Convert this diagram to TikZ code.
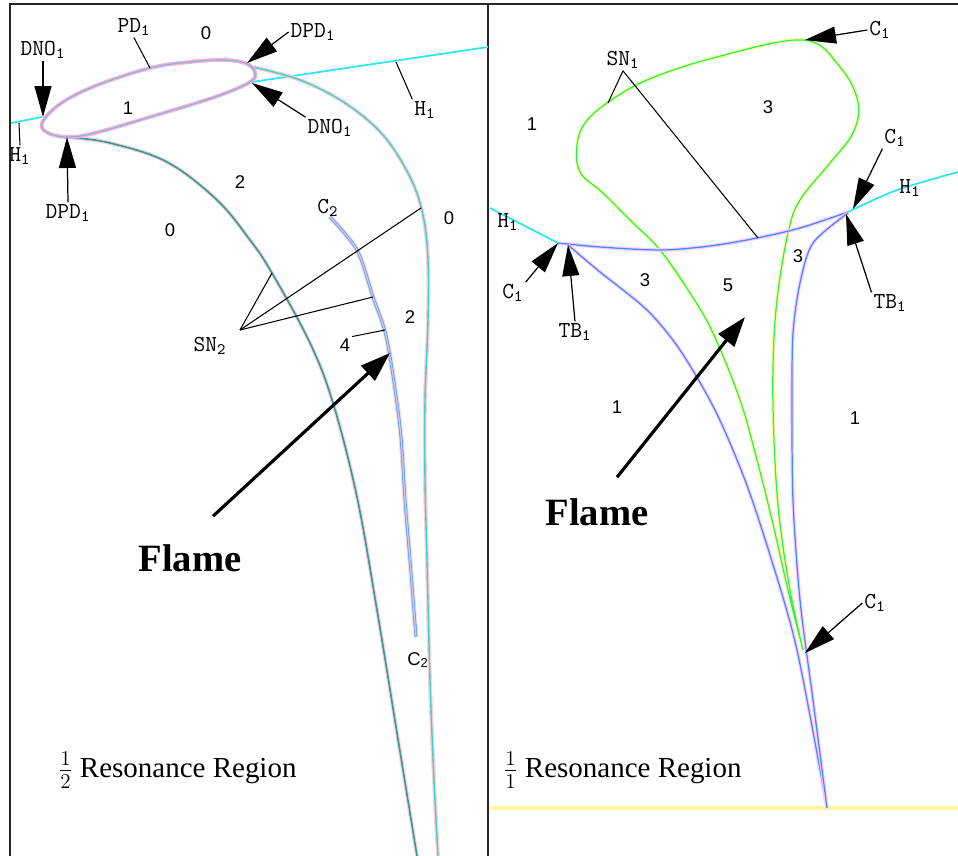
\documentclass[tikz,border=0pt]{standalone}
\usepackage{fontspec}
\setmainfont{Liberation Serif}
\newfontfamily\digitfont{Liberation Sans}
\usetikzlibrary{arrows.meta}
\definecolor{h1cyan}{HTML}{2EE6F0}
\definecolor{tealcurve}{HTML}{2A9E9C}
\definecolor{cyancurve}{HTML}{3DD3D6}
\definecolor{rosehalo}{HTML}{FFCDD0}
\definecolor{ovalpink}{HTML}{EEB4D8}
\definecolor{ovalblue}{HTML}{86B2DA}
\definecolor{cuspblue}{HTML}{6F9CEA}
\definecolor{cusppale}{HTML}{B9D2F5}
\definecolor{branchblue}{HTML}{3C8DFF}
\definecolor{magentahalo}{HTML}{FFC8FF}
\definecolor{loopgreen}{HTML}{25EE6A}
\definecolor{yellowhalo}{HTML}{FFFFA0}
\definecolor{baseyellow}{HTML}{FFF69E}

\tikzset{
  frameline/.style={draw=black!85, line width=1.1pt},
  lbl/.style={font=\fontsize{13}{15}\selectfont\ttfamily, inner sep=1pt},
  num/.style={font=\fontsize{10.5}{12}\selectfont\digitfont, inner sep=1pt},
  flametext/.style={font=\fontsize{22}{26}\selectfont\bfseries},
  regiontext/.style={font=\fontsize{16.5}{20}\selectfont, anchor=west},
  pointer/.style={line width=0.7pt, -{Triangle[length=0.62cm,width=0.34cm]}},
  tickline/.style={line width=0.6pt},
  flamearrow/.style={line width=1.8pt, -{Triangle[length=0.6cm,width=0.4cm]}},
  horizon/.style={draw=h1cyan, line width=1pt},
  outeredge/.style={draw=cyancurve, line width=0.8pt, preaction={draw=rosehalo, line width=2.2pt}},
  inneredge/.style={draw=tealcurve, line width=0.9pt, preaction={draw=rosehalo, line width=2.2pt}},
  oval/.style={draw=ovalblue, line width=0.6pt, preaction={draw=ovalpink, line width=2.2pt}},
  cuspline/.style={draw=cuspblue, line width=0.5pt, double=cusppale, double distance=0.7pt, preaction={draw=rosehalo!70, line width=3pt}},
  branch/.style={draw=branchblue, line width=0.7pt, preaction={draw=magentahalo, line width=2pt}},
  loop/.style={draw=loopgreen, line width=0.7pt, preaction={draw=yellowhalo, line width=2.2pt}}
}

\begin{document}
\begin{tikzpicture}[x=0.02cm,y=-0.02cm]
  \useasboundingbox (0,0) rectangle (958,856);
  \draw[frameline] (10,856) -- (10,4) -- (958,4);
  \draw[frameline] (488,4) -- (488,856);

  % 1/2 resonance
  \draw[horizon] (11,123) -- (42,117);
  \draw[horizon] (252,82) -- (488,47);
  \draw[outeredge] plot[smooth, tension=0.6] coordinates {(253,67) (300,80) (345,103) (383,135) (410,177) (423,215) (428,260) (428,320) (425,400) (425,480) (427,560) (430,680) (434,780) (438,856)};
  \draw[inneredge] plot[smooth, tension=0.6] coordinates {(67,137) (110,143) (167,162) (217,200) (250,240) (272,273) (310,343) (333,403) (357,497) (377,610) (397,733) (417,856)};
  \draw[cuspline] plot[smooth] coordinates {(330,217) (357,250) (373,297) (387,340) (400,427) (405,500) (410,560) (416,637)};
  \draw[oval] plot[smooth cycle, tension=0.6] coordinates {(42,123) (60,104) (95,86) (150,68) (190,62) (222,60) (245,63) (255,72) (250,82) (215,97) (150,117) (95,133) (68,137) (48,133)};

  \coordinate (pdOn) at (150,68);
  \coordinate (dnoLtip) at (43,117);
  \coordinate (dpdTtip) at (247,63);
  \coordinate (dnoRtip) at (252,83);
  \coordinate (dpdBtip) at (67,137);
  \coordinate (h1Lon) at (19,123);
  \coordinate (h1Ron) at (396,62);
  \coordinate (snHub) at (240,330);
  \coordinate (snInner) at (272,273);
  \coordinate (snOuter) at (421,208);
  \coordinate (snCusp) at (373,297);
  \coordinate (fourOn) at (385,330);
  \coordinate (flameLtip) at (390,353);

  \node[lbl] (pd) at (134,27) {PD\textsubscript{1}};
  \node[num] (zeroA) at (206,33) {0};
  \node[lbl] (dnoL) at (43,50) {DNO\textsubscript{1}};
  \node[lbl] (dpdT) at (313,32) {DPD\textsubscript{1}};
  \node[num] (oneA) at (128,108) {1};
  \node[lbl] (dnoR) at (330,128) {DNO\textsubscript{1}};
  \node[lbl] (h1R) at (425,110) {H\textsubscript{1}};
  \node[lbl] (h1L) at (20,156) {H\textsubscript{1}};
  \node[lbl] (dpdB) at (68,213) {DPD\textsubscript{1}};
  \node[num] (twoA) at (240,182) {2};
  \node[num] (zeroB) at (170,230) {0};
  \node[lbl] (c2top) at (328,208) {C\textsubscript{2}};
  \node[num] (zeroC) at (449,218) {0};
  \node[lbl] (sn2) at (210,346) {SN\textsubscript{2}};
  \node[num] (twoB) at (410,317) {2};
  \node[num] (four) at (345,345) {4};
  \node[num] (c2bot) at (418,660) {C\textsubscript{2}};
  \node[flametext] (flameL) at (190,558) {Flame};
  \node[regiontext] (resHalf) at (52,770) {$\frac{1}{2}$ Resonance Region};

  \draw[tickline] (pd.south) -- (pdOn);
  \draw[tickline] (h1L.north) -- (h1Lon);
  \draw[tickline] (h1R.north west) -- (h1Ron);
  \draw[pointer] (dnoL.south) -- (dnoLtip);
  \draw[pointer] (dpdT.west) -- (dpdTtip);
  \draw[pointer] (dnoR.north west) -- (dnoRtip);
  \draw[pointer] (dpdB.north) -- (dpdBtip);
  \draw[tickline] (snHub) -- (snInner);
  \draw[tickline] (snHub) -- (snOuter);
  \draw[tickline] (snHub) -- (snCusp);
  \draw[tickline] (four.north east) -- (fourOn);
  \draw[flamearrow] ([shift={(23,-22)}]flameL.north) -- (flameLtip);

  % 1/1 resonance
  \draw[draw=baseyellow, line width=1.8pt] (490,808) -- (958,808);
  \draw[horizon] plot[smooth] coordinates {(490,208) (525,226) (558,243)};
  \draw[horizon] plot[smooth] coordinates {(848,212) (897,190) (958,172)};
  \draw[loop] plot[smooth, tension=0.6] coordinates {(803,650) (788,590) (772,520) (757,460) (740,400) (713,333) (690,293) (660,250) (630,220) (603,193) (580,172) (577,145) (585,123) (607,103) (647,80) (713,58) (803,40) (840,67) (858,102) (853,133) (830,163) (800,200) (788,233) (777,300) (773,367) (774,440) (779,515) (790,590) (803,650)};
  \draw[branch] plot[smooth] coordinates {(558,243) (600,247) (660,250) (710,246) (757,238) (800,228) (848,212)};
  \draw[branch] plot[smooth] coordinates {(568,245) (600,272) (647,310) (680,350) (715,410) (745,480) (770,555) (797,650) (827,808)};
  \draw[branch] plot[smooth] coordinates {(848,213) (813,243) (800,283) (793,333) (792,400) (793,500) (800,600) (813,700) (827,808)};

  \coordinate (c1Atip) at (805,40);
  \coordinate (snLoop) at (608,103);
  \coordinate (snArc) at (758,238);
  \coordinate (c1Btip) at (853,209);
  \coordinate (c1Ctip) at (558,243);
  \coordinate (tbLtip) at (568,245);
  \coordinate (tbRtip) at (846,214);
  \coordinate (c1Dtip) at (805,653);
  \coordinate (flameRtip) at (745,317);

  \node[lbl] (c1A) at (880,30) {C\textsubscript{1}};
  \node[lbl] (sn1) at (623,60) {SN\textsubscript{1}};
  \node[num] (oneB) at (532,124) {1};
  \node[num] (threeA) at (768,107) {3};
  \node[lbl] (c1B) at (895,138) {C\textsubscript{1}};
  \node[lbl] (h1RR) at (910,188) {H\textsubscript{1}};
  \node[lbl] (h1RL) at (508,222) {H\textsubscript{1}};
  \node[lbl] (c1C) at (513,293) {C\textsubscript{1}};
  \node[lbl] (tbL) at (575,332) {TB\textsubscript{1}};
  \node[lbl] (tbR) at (890,303) {TB\textsubscript{1}};
  \node[num] (threeB) at (645,280) {3};
  \node[num] (five) at (728,285) {5};
  \node[num] (threeC) at (798,256) {3};
  \node[num] (oneC) at (617,407) {1};
  \node[num] (oneD) at (855,418) {1};
  \node[lbl] (c1D) at (875,603) {C\textsubscript{1}};
  \node[flametext] (flameR) at (597,512) {Flame};
  \node[regiontext] (resOne) at (497,770) {$\frac{1}{1}$ Resonance Region};

  \draw[pointer] (c1A.west) -- (c1Atip);
  \draw[tickline] (sn1.south) -- (snLoop);
  \draw[tickline] (sn1.south) -- (snArc);
  \draw[pointer] (c1B.south west) -- (c1Btip);
  \draw[pointer] (c1C.north east) -- (c1Ctip);
  \draw[pointer] (tbL.north) -- (tbLtip);
  \draw[pointer] (tbR.north west) -- (tbRtip);
  \draw[pointer] (c1D.west) -- (c1Dtip);
  \draw[flamearrow] ([shift={(20,-15)}]flameR.north) -- (flameRtip);
\end{tikzpicture}
\end{document}
